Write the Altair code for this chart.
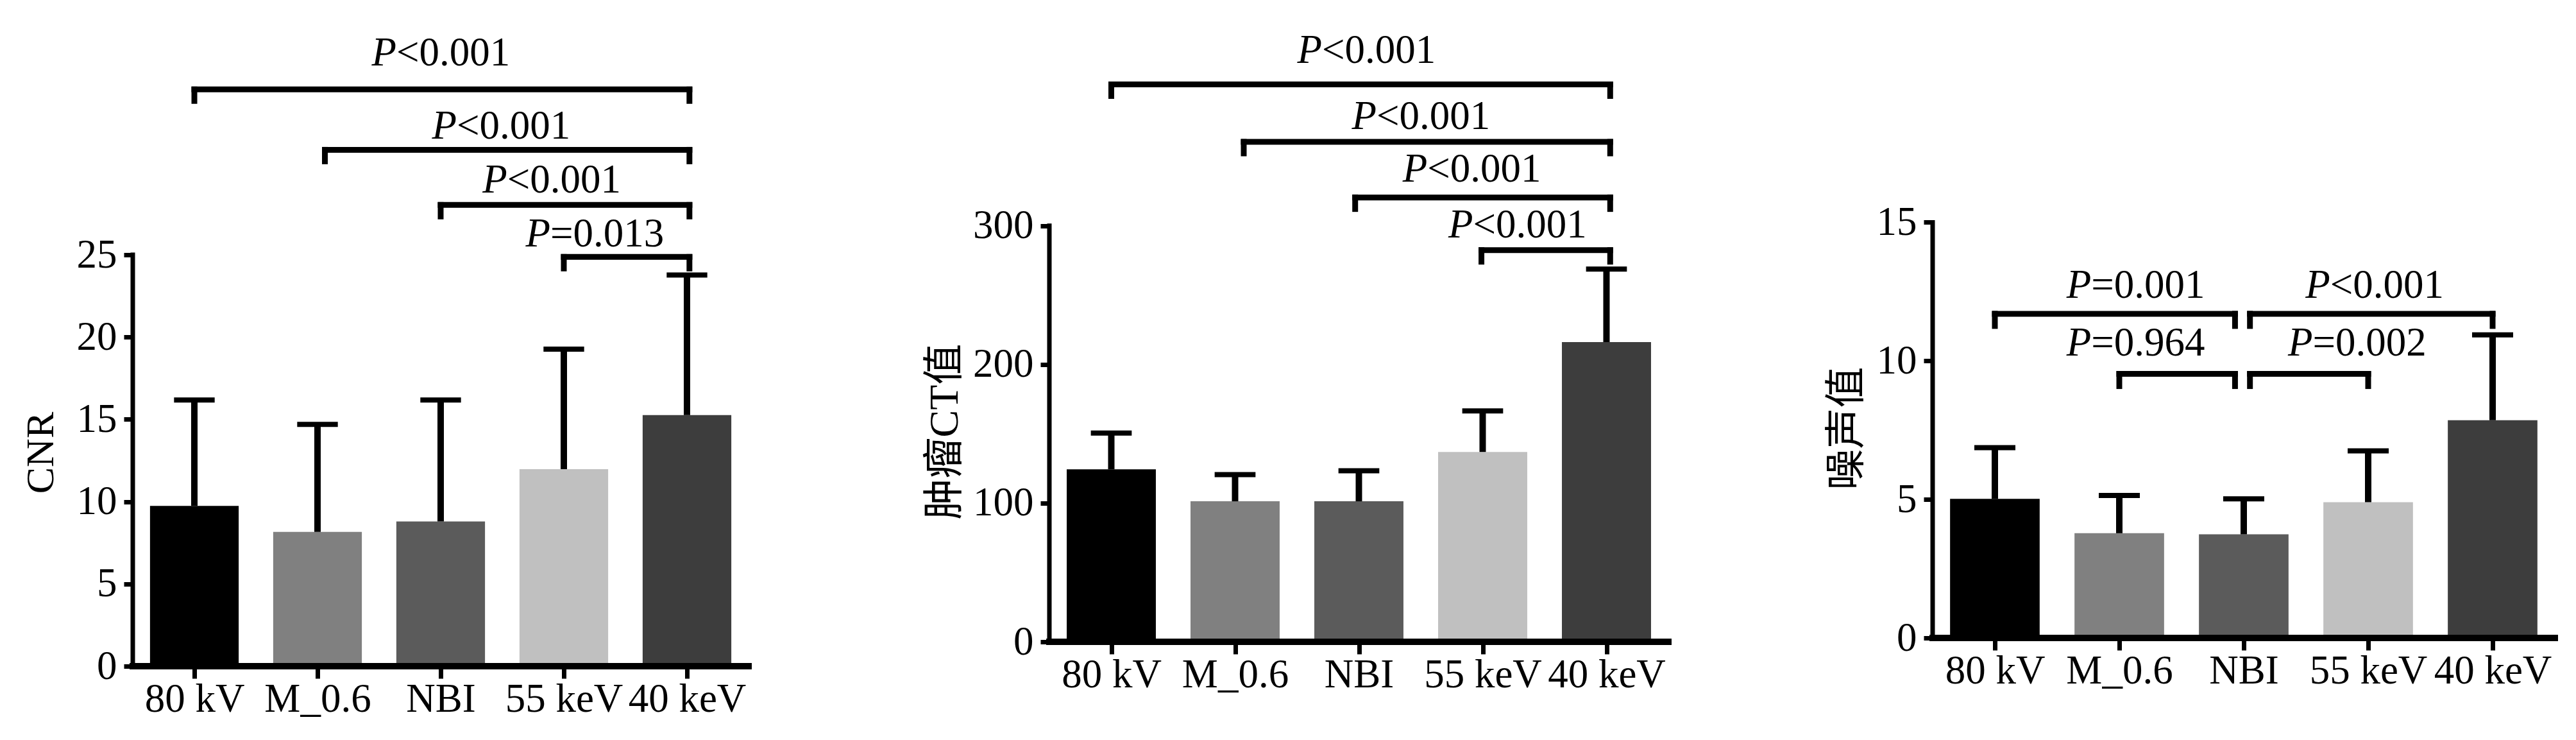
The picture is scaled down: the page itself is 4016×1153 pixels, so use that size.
import altair as alt
import pandas as pd

# ---------------- data ----------------
categories = ["80 kV", "M_0.6", "NBI", "55 keV", "40 keV"]
bar_colors = ["#000000", "#808080", "#5b5b5b", "#c0c0c0", "#3d3d3d"]

cnr_mean = [9.74, 8.16, 8.79, 11.97, 15.26]
cnr_sd = [6.44, 6.53, 7.39, 7.30, 8.51]
cnr_ticks = [0, 5, 10, 15, 20, 25]

ct_mean = [124.4, 101.3, 101.3, 136.9, 216.1]
ct_sd = [26.1, 19.3, 22.0, 29.6, 52.7]
ct_ticks = [0, 100, 200, 300]

noise_mean = [5.02, 3.78, 3.74, 4.90, 7.86]
noise_sd = [1.85, 1.36, 1.28, 1.85, 3.08]
noise_ticks = [0, 5, 10, 15]

# significance brackets: start / end position, height, label, label centre, label baseline
cnr_from = [0, 1.06, 2, 3]
cnr_to = [4.02, 4.02, 4.02, 4.02]
cnr_y = [35.05, 31.38, 28.03, 24.87]
cnr_label = ["P<0.001", "P<0.001", "P<0.001", "P=0.013"]
cnr_tx = [2.0, 2.49, 2.90, 3.25]
cnr_ty = [36.5, 32.07, 28.77, 25.5]
cnr_drop = 0.7

ct_from = [0, 1.07, 1.97, 2.99]
ct_to = [4.03, 4.03, 4.03, 4.03]
ct_y = [401.9, 360.5, 320.4, 282.4]
ct_label = ["P<0.001", "P<0.001", "P<0.001", "P<0.001"]
ct_tx = [2.06, 2.50, 2.91, 3.28]
ct_ty = [417.3, 369.7, 332.0, 291.5]
ct_drop = 8.3

noise_from = [0, 2.05, 1, 2.05]
noise_to = [1.93, 4.0, 1.93, 3.0]
noise_y = [11.70, 11.70, 9.53, 9.53]
noise_label = ["P=0.001", "P<0.001", "P=0.964", "P=0.002"]
noise_tx = [1.13, 3.05, 1.13, 2.91]
noise_ty = [12.28, 12.28, 10.20, 10.20]
noise_drop = 0.44

# ---------------- style / layout ----------------
TOP = 40
SPACING = 412
FONT = "Liberation Serif"
TFONT = "'Liberation Serif', 'Noto Sans CJK SC'"
FS = 63
BAR_HALF = 0.36
CAP_HALF = 0.165


def panel(title, means, sds, ticks, fr, to, yy, labels, tx, ty, drop,
          bottom_px, ypx, width, xpx, title_x, title_c, title_size):
    height = bottom_px - TOP
    ymax = height / ypx
    xmax = -0.5 + width / xpx
    xs = alt.Scale(domain=[-0.5, xmax], nice=False, zero=False)
    ys = alt.Scale(domain=[0, ymax], nice=False, zero=False)

    bars = pd.DataFrame({"cat": categories, "pos": list(range(len(categories))),
                         "mean": means, "sd": sds})
    bars["left"] = bars["pos"] - BAR_HALF
    bars["right"] = bars["pos"] + BAR_HALF
    bars["top"] = bars["mean"] + bars["sd"]
    bars["capl"] = bars["pos"] - CAP_HALF
    bars["capr"] = bars["pos"] + CAP_HALF

    label_expr = "[" + ",".join("'" + c + "'" for c in categories) + "][datum.value]"
    xaxis = alt.Axis(values=list(range(len(categories))), labelExpr=label_expr, title=None,
                     domain=False, grid=False, tickSize=19, tickWidth=7, tickColor="black",
                     labelFont=FONT, labelFontSize=FS, labelColor="black", labelPadding=1,
                     labelAngle=0, labelOverlap=False, labelLimit=0)
    yaxis = alt.Axis(values=ticks, title=title, domain=False, grid=False, tickSize=14,
                     tickWidth=7, tickColor="black", labelFont=FONT, labelFontSize=FS,
                     labelColor="black", labelPadding=11, labelLimit=0, titleFont=TFONT,
                     titleFontSize=title_size, titleFontWeight="normal", titleColor="black",
                     titleX=title_x, titleY=title_c - TOP, titleBaseline="alphabetic",
                     titleAngle=270, titleAlign="center", titleLimit=0)

    base = alt.Chart(bars)
    bar = base.mark_bar().encode(
        x=alt.X("left:Q", scale=xs, axis=xaxis),
        x2="right:Q",
        y=alt.Y("mean:Q", scale=ys, axis=yaxis),
        y2=alt.datum(0),
        color=alt.Color("cat:N", scale=alt.Scale(domain=categories, range=bar_colors), legend=None),
    )
    stem = base.mark_rule(color="black", strokeWidth=10).encode(
        x="pos:Q", y="mean:Q", y2="top:Q")
    cap = base.mark_rule(color="black", strokeWidth=8).encode(
        x="capl:Q", x2="capr:Q", y="top:Q")

    axes = pd.DataFrame({"x0": [-0.5], "x1": [len(categories) - 0.5], "y0": [0], "y1": [ticks[-1]]})
    yline = alt.Chart(axes).mark_rule(color="black", strokeWidth=7, strokeCap="square").encode(
        x="x0:Q", y="y0:Q", y2="y1:Q")
    xline = alt.Chart(axes).mark_rule(color="black", strokeWidth=10, strokeCap="square").encode(
        x="x0:Q", x2="x1:Q", y="y0:Q")

    ann = pd.DataFrame({"x1": fr, "x2": to, "y": yy, "label": labels, "tx": tx, "ty": ty})
    ann["yb"] = ann["y"] - drop
    ann["p"] = ann["label"].str[0]
    ann["rest"] = ann["label"].str[1:]
    ab = alt.Chart(ann)
    hline = ab.mark_rule(color="black", strokeWidth=9, strokeCap="square").encode(
        x="x1:Q", x2="x2:Q", y="y:Q")
    lend = ab.mark_rule(color="black", strokeWidth=9, strokeCap="square").encode(
        x="x1:Q", y="y:Q", y2="yb:Q")
    rend = ab.mark_rule(color="black", strokeWidth=9, strokeCap="square").encode(
        x="x2:Q", y="y:Q", y2="yb:Q")
    ptxt = ab.mark_text(font=FONT, fontSize=FS, fontStyle="italic", align="right",
                        baseline="alphabetic", dx=-69, color="black").encode(
        x="tx:Q", y="ty:Q", text="p:N")
    rtxt = ab.mark_text(font=FONT, fontSize=FS, align="left",
                        baseline="alphabetic", dx=-69, color="black").encode(
        x="tx:Q", y="ty:Q", text="rest:N")

    return alt.layer(bar, stem, cap, yline, xline, hline, lend, rend, ptxt, rtxt).properties(
        width=width, height=height)


p1 = panel("CNR", cnr_mean, cnr_sd, cnr_ticks, cnr_from, cnr_to, cnr_y, cnr_label,
           cnr_tx, cnr_ty, cnr_drop, bottom_px=1038, ypx=25.64, width=1017, xpx=192,
           title_x=-125, title_c=705, title_size=62)
p2 = panel("肿瘤CT值", ct_mean, ct_sd, ct_ticks, ct_from, ct_to, ct_y, ct_label,
           ct_tx, ct_ty, ct_drop, bottom_px=1000, ypx=2.1607, width=965, xpx=193,
           title_x=-144, title_c=672, title_size=64)
p3 = panel("噪声值", noise_mean, noise_sd, noise_ticks, noise_from, noise_to, noise_y,
           noise_label, noise_tx, noise_ty, noise_drop, bottom_px=994, ypx=43.17,
           width=970, xpx=194, title_x=-115, title_c=667, title_size=64)

chart = alt.hconcat(p1, p2, p3, spacing=SPACING, bounds="flush").properties(
    padding={"left": 24, "top": TOP - 8, "right": 5, "bottom": 5},
    background="white",
).configure_view(stroke=None)

chart.save("out.html", embed_options={"renderer": "svg", "actions": False})
